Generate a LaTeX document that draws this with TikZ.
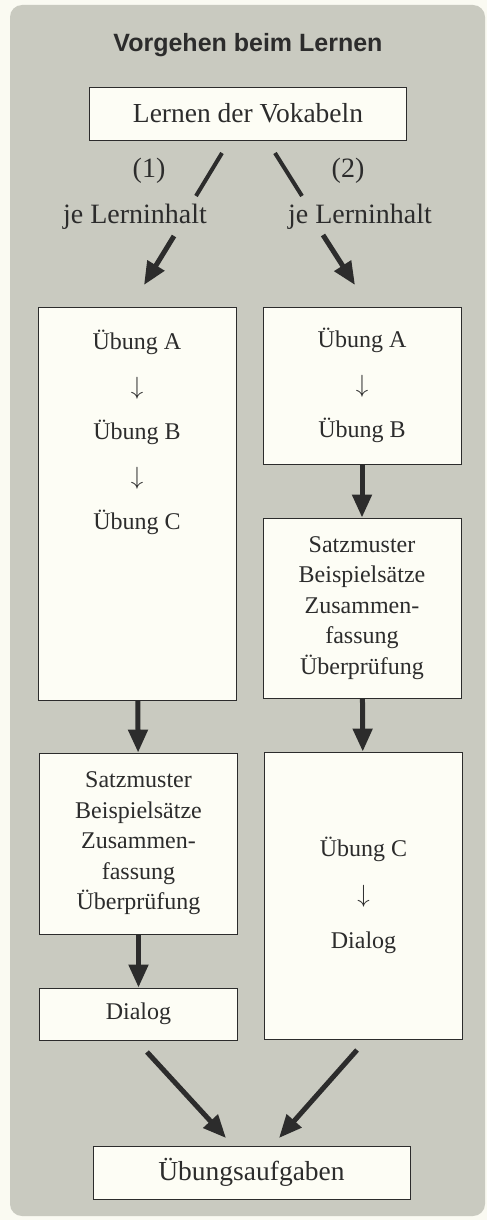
\documentclass[tikz,border=0pt]{standalone}
\usepackage{fontspec}
\setmainfont{Liberation Serif}
\newfontfamily\titlefont{Liberation Sans}
\usetikzlibrary{
    arrows.meta,
    positioning
}

\definecolor{pagecream}{HTML}{FAFAF2}
\definecolor{panelgray}{HTML}{C9CAC0}
\definecolor{boxwhite}{HTML}{FDFDF5}
\definecolor{inkgray}{HTML}{2C2C2C}

\begin{document}
\begin{tikzpicture}[
    x=1pt, y=-1pt,
    box/.style={rectangle, draw=inkgray, line width=0.9pt, fill=boxwhite,
                text=inkgray, align=center, inner sep=0pt,
                font=\fontsize{24}{30.5}\selectfont},
    widebox/.style={box, minimum width=317pt, minimum height=53pt,
                    font=\fontsize{27.5}{33}\selectfont},
    colbox/.style={box, minimum width=198pt},
    steplist/.style={text=inkgray, align=center, inner sep=0pt,
                     font=\fontsize{24}{45}\selectfont},
    branchtext/.style={text=inkgray, inner sep=0pt, font=\fontsize{28}{33}\selectfont},
    forkline/.style={draw=inkgray, line width=4pt},
    flowarrow/.style={draw=inkgray, line width=5pt, -{Triangle[length=23pt,width=19pt]}}
]

    % Page and panel
    \useasboundingbox [fill=pagecream] (0,0) rectangle (487,1220);
    \fill [panelgray, rounded corners=12pt] (10,5) rectangle (485,1216);

    % Title and start
    \node (title) [text=inkgray, font=\titlefont\bfseries\fontsize{25}{30}\selectfont]
        at (248,45) {Vorgehen beim Lernen};
    \node (vokabeln) [widebox] at (248,113.5) {Lernen der Vokabeln};

    % The two ways
    \node (way1) [branchtext] at (149,171) {(1)};
    \node (way2) [branchtext] at (348,171) {(2)};
    \node (per1) [branchtext] at (135,217) {je Lerninhalt};
    \node (per2) [branchtext] at (360,217) {je Lerninhalt};

    \coordinate (fork1a) at (222,153);
    \coordinate (fork1b) at (196,196);
    \coordinate (fork2a) at (275,153);
    \coordinate (fork2b) at (302,196);
    \coordinate (go1a) at (174,236);
    \coordinate (go1b) at (144,285);
    \coordinate (go2a) at (323,235);
    \coordinate (go2b) at (355,285);

    % Left column
    \node (left1) [colbox, minimum height=393pt] at (137,503.5) {};
    \node (leftsteps) [steplist] at (137,432) {Übung A\\$\downarrow$\\Übung B\\$\downarrow$\\Übung C};
    \node (left2) [colbox, minimum height=181pt] at (138.5,843.5)
        {Satzmuster\\Beispielsätze\\Zusammen-\\fassung\\Überprüfung};
    \node (left3) [colbox, minimum height=52pt] at (138.5,1014) {Dialog};

    % Right column
    \node (right1) [colbox, minimum height=157pt, font=\fontsize{24}{45}\selectfont]
        at (362,385.5) {Übung A\\$\downarrow$\\Übung B};
    \node (right2) [colbox, minimum height=180pt] at (362,608)
        {Satzmuster\\Beispielsätze\\Zusammen-\\fassung\\Überprüfung};
    \node (right3) [colbox, minimum height=287pt, font=\fontsize{24}{46}\selectfont]
        at (363.5,895.5) {Übung C\\$\downarrow$\\Dialog};

    % End
    \node (aufgaben) [widebox] at (251.5,1172.5) {Übungsaufgaben};
    \coordinate (end1a) at (147,1052);
    \coordinate (end1b) at (226,1138);
    \coordinate (end2a) at (357,1050);
    \coordinate (end2b) at (279,1138);

    % Connections
    \draw [forkline] (fork1a) -- (fork1b);
    \draw [forkline] (fork2a) -- (fork2b);
    \draw [flowarrow] (go1a) -- (go1b);
    \draw [flowarrow] (go2a) -- (go2b);
    \draw [flowarrow] (left1) -- (left2);
    \draw [flowarrow] (left2) -- (left3);
    \draw [flowarrow] (right1) -- (right2);
    \draw [flowarrow] (right2) -- (right3);
    \draw [flowarrow] (end1a) -- (end1b);
    \draw [flowarrow] (end2a) -- (end2b);

\end{tikzpicture}
\end{document}
